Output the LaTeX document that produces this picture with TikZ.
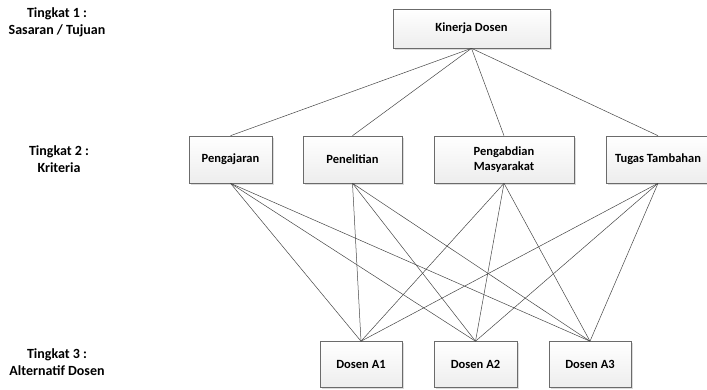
\documentclass[tikz,border=0pt]{standalone}
\usepackage{fontspec}
\setmainfont{Carlito}
\usetikzlibrary{shadows}
\definecolor{garis}{RGB}{70,70,70}
\tikzset{
  kotak/.style={draw=garis!80, line width=0.6pt, top color=white, bottom color=gray!14,
    drop shadow={shadow xshift=1.5pt, shadow yshift=-1.5pt, fill=gray!55},
    font=\bfseries\fontsize{12.5}{15}\selectfont, align=center, inner sep=0pt},
  tingkat/.style={font=\bfseries\fontsize{14}{17}\selectfont, align=center},
  hubung/.style={draw=garis, line width=0.5pt}
}
\begin{document}
\begin{tikzpicture}[x=1pt,y=-1pt]
\useasboundingbox (0,0) rectangle (707,389);
\node[tingkat] (t1) at (57,22) {Tingkat 1 :\\Sasaran / Tujuan};
\node[tingkat] (t2) at (59,159) {Tingkat 2 :\\Kriteria};
\node[tingkat] (t3) at (57,362) {Tingkat 3 :\\Alternatif Dosen};

\node[kotak, minimum width=157pt, minimum height=39pt] (kinerja) at (471.5,28.5) {Kinerja Dosen};

\node[kotak, minimum width=83pt, minimum height=47pt] (ajar) at (230.5,159.5) {Pengajaran};
\node[kotak, minimum width=99pt, minimum height=47pt] (teliti) at (352.5,159.5) {Penelitian};
\node[kotak, minimum width=140pt, minimum height=47pt] (abdi) at (504,159.5) {Pengabdian\\Masyarakat};
\node[kotak, minimum width=104pt, minimum height=47pt] (tugas) at (658,159.5) {Tugas Tambahan};

\node[kotak, minimum width=82pt, minimum height=46pt] (dosenA) at (361,364.5) {Dosen A1};
\node[kotak, minimum width=83pt, minimum height=46pt] (dosenB) at (475.5,364.5) {Dosen A2};
\node[kotak, minimum width=82pt, minimum height=46pt] (dosenC) at (590,364.5) {Dosen A3};

\foreach \k in {ajar,teliti,abdi,tugas}
  \draw[hubung] (kinerja.south) -- (\k.north);
\foreach \k in {ajar,teliti,abdi,tugas}
  \foreach \d in {dosenA,dosenB,dosenC}
    \draw[hubung] (\k.south) -- (\d.north);
\end{tikzpicture}
\end{document}
